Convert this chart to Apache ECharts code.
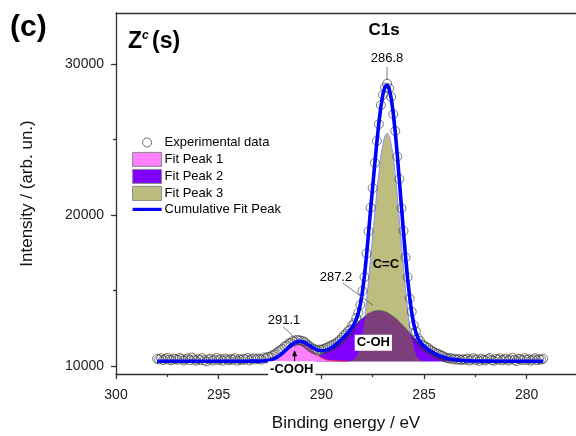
<!DOCTYPE html>
<html>
<head>
<meta charset="utf-8">
<script src="https://cdn.jsdelivr.net/npm/echarts@6/dist/echarts.min.js"></script>
<style>
  html, body { margin: 0; padding: 0; background: #fff; }
  #chart { width: 576px; height: 436px; }
</style>
</head>
<body>
<div id="chart"></div>
<script>
// C1s XPS spectrum with three fitted components

// Measured spectrum: binding energy grid (eV) and counts
const EXP_START = 298.0;
const EXP_STEP = 0.1;
const expIntensity = [
  10480, 10430, 10520, 10390, 10460, 10540, 10420, 10380, 10500, 10450,
  10410, 10530, 10470, 10360, 10440, 10510, 10390, 10560, 10430, 10350,
  10460, 10400, 10520, 10380, 10300, 10440, 10490, 10370, 10420, 10540,
  10390, 10460, 10350, 10500, 10430, 10380, 10470, 10410, 10520, 10360,
  10450, 10390, 10480, 10420, 10530, 10370, 10460, 10510, 10440, 10490,
  10480, 10420, 10560, 10510, 10610, 10580, 10700, 10760, 10850, 10940,
  11060, 11130, 11290, 11350, 11490, 11530, 11660, 11630, 11740, 11700,
  11680, 11640, 11580, 11440, 11340, 11230, 11150, 11100, 11020, 11090,
  11070, 11130, 11180, 11230, 11310, 11360, 11430, 11500, 11620, 11710,
  11870, 12030, 12140, 12320, 12410, 12680, 12840, 13180, 13530, 14050,
  14970, 15900, 17460, 18930, 20490, 21790, 23470, 24920, 26030, 27300,
  27970, 28460, 28710, 28410, 27840, 26690, 25580, 23880, 22390, 20460,
  18950, 17210, 15880, 14480, 13600, 12700, 12290, 11830, 11670, 11420,
  11350, 11260, 11190, 11070, 10980, 10920, 10840, 10800, 10720, 10680,
  10590, 10540, 10490, 10530, 10440, 10490, 10420, 10460, 10390, 10450,
  10410, 10490, 10360, 10430, 10520, 10390, 10450, 10340, 10480, 10410,
  10370, 10460, 10530, 10400, 10350, 10470, 10420, 10510, 10380, 10440,
  10490, 10360, 10430, 10550, 10410, 10330, 10480, 10440, 10390, 10520,
  10400, 10460, 10350, 10430, 10510, 10380, 10450, 10420, 10480
];

// Sum of the fitted components on the same energy grid
const cumIntensity = [
  10320, 10320, 10320, 10320, 10320, 10320, 10320, 10320, 10320, 10320,
  10320, 10320, 10320, 10320, 10320, 10320, 10320, 10320, 10320, 10320,
  10320, 10320, 10320, 10320, 10320, 10320, 10320, 10320, 10320, 10320,
  10320, 10320, 10320, 10320, 10320, 10320, 10320, 10320, 10320, 10320,
  10320, 10320, 10320, 10320, 10320, 10321, 10321, 10322, 10323, 10325,
  10328, 10334, 10343, 10357, 10377, 10404, 10443, 10493, 10558, 10639,
  10735, 10846, 10968, 11097, 11227, 11351, 11460, 11549, 11610, 11639,
  11637, 11605, 11546, 11469, 11379, 11287, 11200, 11124, 11064, 11025,
  11008, 11012, 11039, 11084, 11148, 11228, 11320, 11425, 11539, 11663,
  11794, 11931, 12075, 12226, 12388, 12571, 12797, 13093, 13503, 14093,
  14914, 16005, 17335, 18852, 20406, 21894, 23370, 24801, 26107, 27202,
  28021, 28523, 28646, 28391, 27760, 26769, 25481, 23955, 22285, 20565,
  18868, 17260, 15801, 14554, 13534, 12773, 12228, 11869, 11622, 11449,
  11312, 11197, 11095, 11002, 10919, 10843, 10775, 10713, 10658, 10610,
  10567, 10529, 10496, 10468, 10443, 10422, 10404, 10389, 10377, 10366,
  10357, 10350, 10344, 10339, 10335, 10332, 10329, 10327, 10325, 10324,
  10323, 10322, 10322, 10321, 10320, 10320, 10320, 10320, 10320, 10320,
  10320, 10320, 10320, 10320, 10320, 10320, 10320, 10320, 10320, 10320,
  10320, 10320, 10320, 10320, 10320, 10320, 10320, 10320, 10320
];

// Background level under the fitted components
const BASELINE = 10320;

// Fit peak 1 (-COOH, 291.1 eV)
const peak1Energy = [293.5, 293.2, 292.9, 292.6, 292.3, 292.0, 291.7, 291.4, 291.1,
                     290.8, 290.5, 290.2, 289.9, 289.6, 289.3, 289.0, 288.7];
const peak1Intensity = [10320, 10323, 10334, 10375, 10489, 10726, 11078, 11423, 11570,
                        11423, 11078, 10726, 10489, 10375, 10334, 10323, 10320];

// Fit peaks 2 (C-OH, 287.2 eV) and 3 (C=C, 286.8 eV) share one energy grid
const peak23Energy = [291.6, 291.4, 291.2, 291.0, 290.8, 290.6, 290.4, 290.2, 290.0, 289.8,
                      289.6, 289.4, 289.2, 289.0, 288.8, 288.6, 288.4, 288.2, 288.0, 287.8,
                      287.6, 287.4, 287.2, 287.0, 286.8, 286.6, 286.4, 286.2, 286.0, 285.8,
                      285.6, 285.4, 285.2, 285.0, 284.8, 284.6, 284.4, 284.2, 284.0, 283.8,
                      283.6, 283.4, 283.2, 283.0, 282.8];
const peak2Intensity = [10344, 10357, 10377, 10404, 10443, 10496, 10567, 10658, 10775, 10919,
                        11093, 11297, 11531, 11790, 12069, 12358, 12647, 12923, 13174, 13385,
                        13546, 13646, 13680, 13646, 13546, 13385, 13174, 12923, 12647, 12358,
                        12069, 11790, 11531, 11297, 11093, 10919, 10775, 10658, 10567, 10496,
                        10443, 10404, 10377, 10357, 10344];
const peak3Intensity = [10320, 10320, 10320, 10320, 10320, 10320, 10320, 10320, 10320, 10320,
                        10320, 10320, 10320, 10321, 10325, 10350, 10470, 10900, 12060, 14270,
                        17180, 20044, 22747, 24695, 25420, 24695, 22627, 19682, 16541, 13763,
                        11785, 10758, 10411, 10335, 10322, 10320, 10320, 10320, 10320, 10320,
                        10320, 10320, 10320, 10320, 10320];

// Axis ticks
const xMajorTicks = [280, 285, 290, 295, 300];
const xMinorTicks = [282.5, 287.5, 292.5, 297.5];
const yMajorTicks = [10000, 20000, 30000];
const yMinorTicks = [15000, 25000];

// Series display names
const SERIES = ['Experimental data', 'Fit Peak 1', 'Fit Peak 2', 'Fit Peak 3', 'Cumulative Fit Peak'];

// ---------------------------------------------------------------------------
const FONT = '"Liberation Sans", Arial, Helvetica, sans-serif';
const AXIS_COLOR = '#333';

const expEnergy = expIntensity.map((_, i) => +(EXP_START - i * EXP_STEP).toFixed(1));
const expData = expEnergy.map((e, i) => [e, expIntensity[i]]);
const cumData = expEnergy.map((e, i) => [e, cumIntensity[i]]);
const peak1Data = peak1Energy.map((e, i) => [e, peak1Intensity[i]]);
const peak2Data = peak23Energy.map((e, i) => [e, peak2Intensity[i]]);
const peak3Data = peak23Energy.map((e, i) => [e, peak3Intensity[i]]);
// where components 2 and 3 overlap the fill takes a darker mixed tone
const overlapData = peak23Energy.map((e, i) => [e, Math.min(peak2Intensity[i], peak3Intensity[i])]);

const COLORS = {
  peak1: '#ff80ff',
  peak2: '#8000ff',
  peak3: '#bdbd80',
  overlap: '#7c3f7c',
  cum: '#0000ff'
};

const chart = echarts.init(document.getElementById('chart'), null, { renderer: 'canvas' });

const X_MIN = 277.6, X_MAX = 300;
const Y_MIN = 9470, Y_MAX = 33400;

function areaSeries(name, data, fill, edge, z) {
  return {
    name: name,
    type: 'line',
    data: data,
    smooth: true,
    symbol: 'none',
    z: z,
    itemStyle: { color: fill },
    lineStyle: { color: edge || fill, width: edge ? 1 : 0 },
    areaStyle: { color: fill, opacity: 1, origin: BASELINE },
    silent: true
  };
}

// small circle icon inside a 14x14 box for the legend
const SMALL_CIRCLE = 'path://M0,0L0.001,0M14,14L14.001,14M11.5,7A4.5,4.5,0,1,1,2.5,7A4.5,4.5,0,1,1,11.5,7Z';

const option = {
  animation: false,
  backgroundColor: '#fff',
  textStyle: { fontFamily: FONT },
  grid: { left: 116, top: 13, right: 0, bottom: 62, containLabel: false, outerBoundsMode: 'none' },
  legend: {
    orient: 'vertical',
    left: 126,
    top: 130,
    itemWidth: 29,
    itemHeight: 14,
    itemGap: 2,
    selectedMode: false,
    textStyle: { fontSize: 13, color: '#000', fontFamily: FONT, padding: [0, 0, 0, -2] },
    data: [
      { name: SERIES[0], icon: SMALL_CIRCLE, itemStyle: { color: 'rgba(255,255,255,0)', borderColor: '#333', borderWidth: 0.9 } },
      { name: SERIES[1], icon: 'rect', itemStyle: { color: COLORS.peak1, borderColor: '#888', borderWidth: 1 } },
      { name: SERIES[2], icon: 'rect', itemStyle: { color: COLORS.peak2, borderColor: '#888', borderWidth: 1 } },
      { name: SERIES[3], icon: 'rect', itemStyle: { color: COLORS.peak3, borderColor: '#888', borderWidth: 1 } },
      { name: SERIES[4], itemStyle: { opacity: 0 }, lineStyle: { color: COLORS.cum, width: 3.2 } }
    ]
  },
  xAxis: [
    {
      type: 'value', position: 'bottom', inverse: true, min: X_MIN, max: X_MAX,
      axisLine: { show: true, onZero: false, lineStyle: { color: AXIS_COLOR, width: 1.3 } },
      axisTick: { show: true, inside: false, length: 5, customValues: xMajorTicks, lineStyle: { color: AXIS_COLOR, width: 1.3 } },
      axisLabel: { customValues: xMajorTicks, margin: 14, fontSize: 14, color: '#222', fontFamily: FONT, formatter: v => String(v) },
      splitLine: { show: false },
      name: 'Binding energy / eV', nameLocation: 'middle', nameGap: 41,
      nameTextStyle: { fontSize: 17, color: '#111', fontFamily: FONT }
    },
    {
      type: 'value', position: 'bottom', inverse: true, min: X_MIN, max: X_MAX,
      axisLine: { show: false, onZero: false },
      axisTick: { show: true, inside: false, length: 3, customValues: xMinorTicks, lineStyle: { color: AXIS_COLOR, width: 1.3 } },
      axisLabel: { show: false },
      splitLine: { show: false }
    },
    {
      type: 'value', position: 'top', inverse: true, min: X_MIN, max: X_MAX,
      axisLine: { show: true, onZero: false, lineStyle: { color: AXIS_COLOR, width: 1.3 } },
      axisTick: { show: false }, axisLabel: { show: false }, splitLine: { show: false }
    }
  ],
  yAxis: [
    {
      type: 'value', position: 'left', min: Y_MIN, max: Y_MAX,
      axisLine: { show: true, onZero: false, lineStyle: { color: AXIS_COLOR, width: 1.3 } },
      axisTick: { show: true, inside: false, length: 5, customValues: yMajorTicks, lineStyle: { color: AXIS_COLOR, width: 1.3 } },
      axisLabel: { customValues: yMajorTicks, margin: 12, fontSize: 14, color: '#222', fontFamily: FONT, formatter: v => String(v) },
      splitLine: { show: false },
      name: 'Intensity / (arb. un.)', nameLocation: 'middle', nameGap: 80,
      nameTextStyle: { fontSize: 17, color: '#111', fontFamily: FONT }
    },
    {
      type: 'value', position: 'left', min: Y_MIN, max: Y_MAX, offset: 0,
      axisLine: { show: false, onZero: false },
      axisTick: { show: true, inside: false, length: 3, customValues: yMinorTicks, lineStyle: { color: AXIS_COLOR, width: 1.3 } },
      axisLabel: { show: false },
      splitLine: { show: false }
    }
  ],
  series: [
    areaSeries(SERIES[3], peak3Data, COLORS.peak3, '#8c8cff', 2),
    areaSeries(SERIES[2], peak2Data, COLORS.peak2, '#33bb33', 3),
    areaSeries('overlap', overlapData, COLORS.overlap, null, 4),
    areaSeries(SERIES[1], peak1Data, COLORS.peak1, '#ff3030', 5),
    {
      name: SERIES[0],
      type: 'scatter',
      data: expData,
      symbol: 'circle',
      symbolSize: 9,
      z: 6,
      itemStyle: { color: 'rgba(255,255,255,0)', borderColor: '#333', borderWidth: 0.8 },
      silent: true
    },
    {
      name: SERIES[4],
      type: 'line',
      data: cumData,
      symbol: 'none',
      z: 7,
      itemStyle: { color: COLORS.cum },
      lineStyle: { color: COLORS.cum, width: 3.6 },
      silent: true
    }
  ]
};

chart.setOption(option);

// Annotations, anchored in data coordinates (energy, intensity)
const NOTES = {
  top: { text: '286.8', label: [286.8, 30420], from: [286.8, 29820], to: [286.8, 28960] },
  peak2: { text: '287.2', label: [289.29, 15900], from: [288.95, 15500], to: [287.49, 14030] },
  peak1: { text: '291.1', label: [291.82, 13040], from: [291.86, 12590], to: [291.29, 11886] },
  cc: { text: 'C=C', at: [286.86, 16750] },
  coh: { text: 'C-OH', at: [287.47, 11540] },
  cooh: { text: '-COOH', at: [291.44, 9790] },
  arrow: [291.3, 11044]
};

function toPx(pt) {
  return chart.convertToPixel({ seriesIndex: 0 }, pt);
}

const graphics = [];

function addLeader(note) {
  const p = toPx(note.label), a = toPx(note.from), b = toPx(note.to);
  graphics.push({
    type: 'text', x: p[0], y: p[1], z: 20,
    style: { text: note.text, font: '13px ' + FONT, fill: '#000', align: 'center', verticalAlign: 'middle' }
  });
  graphics.push({
    type: 'line', z: 20,
    shape: { x1: a[0], y1: a[1], x2: b[0], y2: b[1] },
    style: { stroke: '#555', lineWidth: 0.8 }
  });
}
addLeader(NOTES.top);
addLeader(NOTES.peak2);
addLeader(NOTES.peak1);

function addBoldNote(note, boxed) {
  const p = toPx(note.at);
  graphics.push({
    type: 'text', x: p[0], y: p[1], z: 21,
    style: {
      text: note.text, font: 'bold 13px ' + FONT, fill: '#000', align: 'center', verticalAlign: 'middle',
      backgroundColor: boxed ? '#fff' : null, padding: boxed ? [2, 2, 1, 2] : 0
    }
  });
}
addBoldNote(NOTES.cc, false);
addBoldNote(NOTES.coh, true);
addBoldNote(NOTES.cooh, true);

// small upward arrow inside the -COOH component
(function () {
  const t = toPx(NOTES.arrow);
  graphics.push({
    type: 'polygon', z: 20,
    shape: { points: [[t[0], t[1]], [t[0] - 2.6, t[1] + 6], [t[0] + 2.6, t[1] + 6]] },
    style: { fill: '#000' }
  });
  graphics.push({
    type: 'line', z: 20,
    shape: { x1: t[0], y1: t[1] + 5, x2: t[0], y2: t[1] + 12 },
    style: { stroke: '#000', lineWidth: 1 }
  });
})();

// panel tag and headings
graphics.push(
  { type: 'text', x: 10, y: 28, z: 30, style: { text: '(c)', font: 'bold 30px ' + FONT, fill: '#000', align: 'left', verticalAlign: 'middle' } },
  { type: 'text', x: 128, y: 42, z: 30, style: { text: 'Z', font: 'bold 23px ' + FONT, fill: '#000', align: 'left', verticalAlign: 'middle' } },
  { type: 'text', x: 142, y: 36, z: 30, style: { text: 'c', font: 'italic bold 12px ' + FONT, fill: '#000', align: 'left', verticalAlign: 'middle' } },
  { type: 'text', x: 152, y: 42, z: 30, style: { text: '(s)', font: 'bold 23px ' + FONT, fill: '#000', align: 'left', verticalAlign: 'middle' } },
  { type: 'text', x: 384, y: 30, z: 30, style: { text: 'C1s', font: 'bold 17px ' + FONT, fill: '#000', align: 'center', verticalAlign: 'middle' } }
);

chart.setOption({ graphic: graphics });
</script>
</body>
</html>
